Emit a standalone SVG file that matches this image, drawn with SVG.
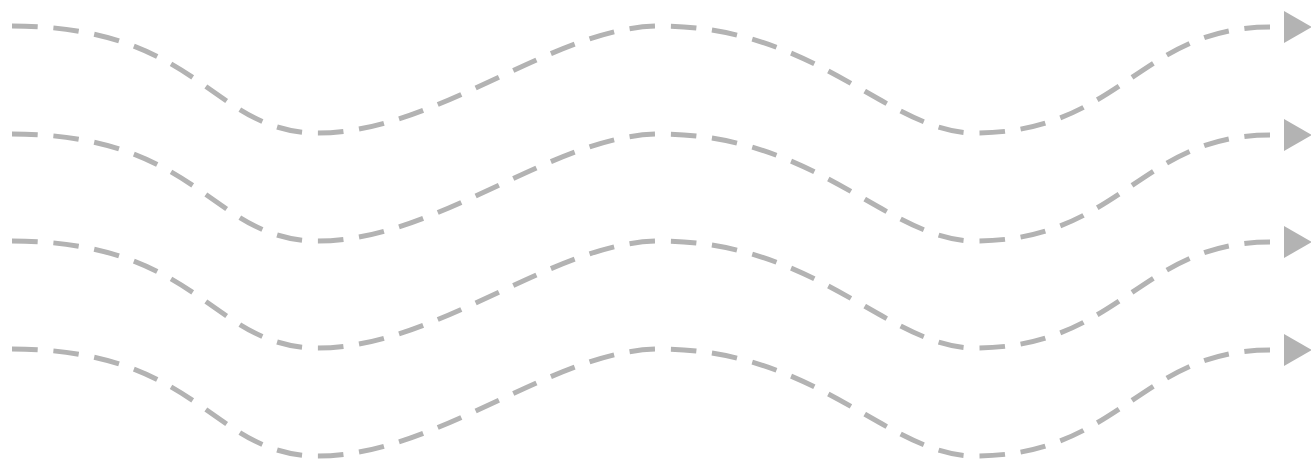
<svg xmlns="http://www.w3.org/2000/svg" width="1311" height="459" viewBox="0 0 1311 459">
  <style>
    .wave { fill: none; stroke: #b3b3b3; stroke-width: 5; stroke-dasharray: 26 16; marker-end: url(#arrow); }
  </style>
  <defs>
    <marker id="arrow" markerUnits="userSpaceOnUse" markerWidth="42" markerHeight="32" viewBox="-14 0 42 32" refX="-14" refY="16" orient="auto">
      <path d="M0,0 L28,16 L0,32 Z" fill="#b3b3b3"/>
    </marker>
  </defs>
  <rect width="1311" height="459" fill="#ffffff"/>
  <g id="connectors">
    <path id="wave1" class="wave" pathLength="1370" d="M12,26 C201,26 211,133 318,133 C437,133 554,26 660,26 C818,26 888,133 975,133 C1120,133 1140,27 1270,27"/>
    <path id="wave2" class="wave" pathLength="1370" transform="translate(0,108)" d="M12,26 C201,26 211,133 318,133 C437,133 554,26 660,26 C818,26 888,133 975,133 C1120,133 1140,27 1270,27"/>
    <path id="wave3" class="wave" pathLength="1370" transform="translate(0,215)" d="M12,26 C201,26 211,133 318,133 C437,133 554,26 660,26 C818,26 888,133 975,133 C1120,133 1140,27 1270,27"/>
    <path id="wave4" class="wave" pathLength="1370" transform="translate(0,323)" d="M12,26 C201,26 211,133 318,133 C437,133 554,26 660,26 C818,26 888,133 975,133 C1120,133 1140,27 1270,27"/>
  </g>
</svg>
